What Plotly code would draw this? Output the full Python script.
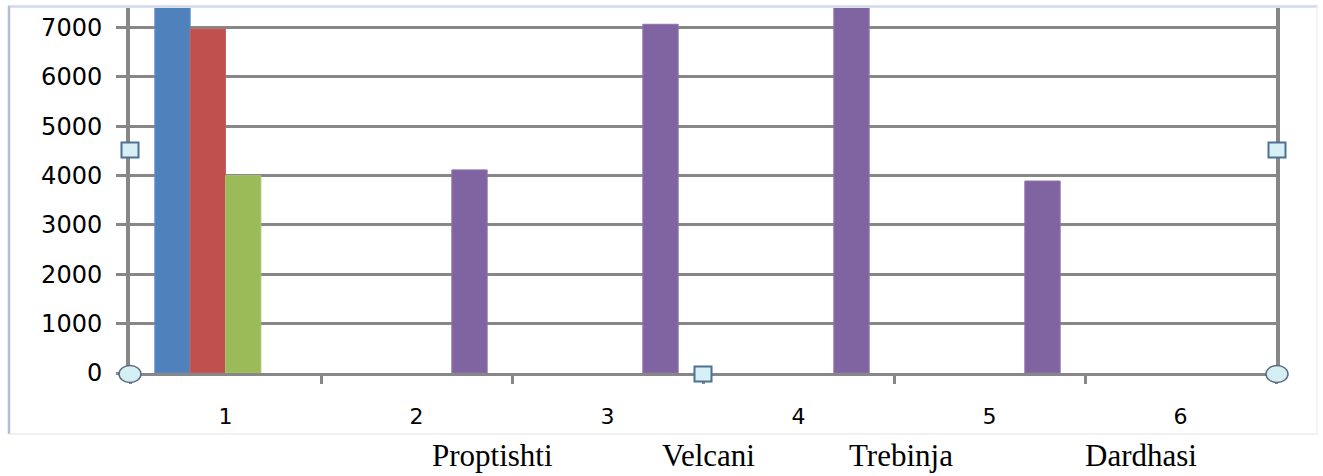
import plotly.graph_objects as go

# ---- data ----
categories = ["1", "2", "3", "4", "5", "6"]
series1_cats = ["1"]
series1_vals = [7600]
series2_cats = ["1"]
series2_vals = [6970]
series3_cats = ["1"]
series3_vals = [4000]
series4_cats = ["2", "3", "4", "5"]
series4_vals = [4115, 7065, 7600, 3890]
y_ticks = [0, 1000, 2000, 3000, 4000, 5000, 6000, 7000]
place_names = ["Proptishti", "Velcani", "Trebinja", "Dardhasi"]

# ---- styling ----
W, H = 1323, 476
ML, MR, MT, MB = 130, 47, 8, 103
PW, PH = W - ML - MR, H - MT - MB
GRID = "#878787"


def px(x):
    return (x - ML) / PW


def py(y):
    return (H - MB - y) / PH


colors = ["#4F81BD", "#C0504D", "#9BBB59", "#8064A2"]
edges = ["#5f8dc4", "#c86260", "#a6c26a", "#8d74ad"]

fig = go.Figure()
for cats, vals, c, e in [
    (series1_cats, series1_vals, colors[0], edges[0]),
    (series2_cats, series2_vals, colors[1], edges[1]),
    (series3_cats, series3_vals, colors[2], edges[2]),
    (series4_cats, series4_vals, colors[3], edges[3]),
]:
    fig.add_trace(go.Bar(x=cats, y=vals, marker=dict(color=c, line=dict(color=e, width=1)),
                         showlegend=False, hoverinfo="x+y"))

fig.update_layout(
    width=W, height=H,
    margin=dict(l=ML, r=MR, t=MT, b=MB),
    paper_bgcolor="white", plot_bgcolor="white",
    barmode="group", bargap=0.26, bargroupgap=0,
    showlegend=False,
)

fig.update_xaxes(
    type="category", categoryorder="array", categoryarray=categories,
    range=[-0.5, len(categories) - 0.5],
    showgrid=False, zeroline=False,
    showline=True, linecolor=GRID, linewidth=3,
    ticks="outside", tickson="boundaries", ticklen=8, tickwidth=3, tickcolor=GRID,
    tickfont=dict(family="DejaVu Sans", size=22, color="black"),
    ticklabelstandoff=22,
)
fig.update_yaxes(
    range=[0, 7395],
    tickvals=y_ticks, ticktext=[str(v) for v in y_ticks],
    showgrid=True, gridcolor=GRID, gridwidth=3,
    zeroline=False,
    showline=True, linecolor=GRID, linewidth=4, mirror=True,
    ticks="outside", ticklen=10, tickwidth=3, tickcolor=GRID,
    tickfont=dict(family="DejaVu Sans", size=24, color="black"),
    ticklabelstandoff=9,
)

shapes = []
# chart border lines
shapes.append(dict(type="line", xref="paper", yref="paper", x0=px(8), x1=px(1318), y0=py(6.5), y1=py(6.5),
                   line=dict(color="#d3d8ea", width=2.5), layer="above"))
shapes.append(dict(type="line", xref="paper", yref="paper", x0=px(9), x1=px(9), y0=py(6), y1=py(434),
                   line=dict(color="#b4bdd4", width=2.5), layer="above"))
shapes.append(dict(type="line", xref="paper", yref="paper", x0=px(9), x1=px(1318), y0=py(434), y1=py(434),
                   line=dict(color="#ececf2", width=1.5), layer="above"))
shapes.append(dict(type="line", xref="paper", yref="paper", x0=px(1317), x1=px(1317), y0=py(6), y1=py(434),
                   line=dict(color="#f0f0f6", width=1.5), layer="above"))

# selection handles
for cx, cy in [(130, 150), (1277, 150), (703, 374)]:
    shapes.append(dict(type="rect", xref="paper", yref="paper",
                       x0=px(cx - 8.5), x1=px(cx + 8.5), y0=py(cy - 7.5), y1=py(cy + 7.5),
                       fillcolor="#d6f0f6", line=dict(color="#4f6f96", width=2), layer="above"))
for cx, cy in [(130, 374), (1277, 374)]:
    shapes.append(dict(type="circle", xref="paper", yref="paper",
                       x0=px(cx - 11), x1=px(cx + 11), y0=py(cy - 8.5), y1=py(cy + 8.5),
                       fillcolor="#d4eef4", line=dict(color="#5b6b80", width=1.5), layer="above"))
fig.update_layout(shapes=shapes)

name_x = [493, 709, 901, 1141]
for name, x in zip(place_names, name_x):
    fig.add_annotation(text=name, xref="paper", yref="paper", x=px(x), y=py(455),
                       xanchor="center", yanchor="middle", showarrow=False,
                       font=dict(family="Liberation Serif", size=31, color="black"))

fig.write_html("out.html", config={"displayModeBar": False},
               post_script="document.body.style.margin='0px';")
